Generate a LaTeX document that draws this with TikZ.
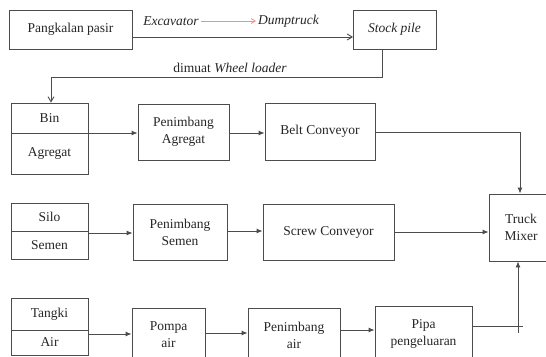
\documentclass[tikz,border=0pt]{standalone}
\usepackage{fontspec}
\setmainfont{Liberation Serif}
\usetikzlibrary{arrows.meta}
\begin{document}
\begin{tikzpicture}[x=1pt,y=-1pt,
  box/.style={draw=black!70, line width=0.9pt, rectangle, inner sep=0pt, align=center, font=\fontsize{13.5}{17}\selectfont, text=black!85},
  lbl/.style={inner sep=2pt, font=\fontsize{13.5}{17}\selectfont\itshape, text=black!85},
  conn/.style={draw=black!70, line width=0.9pt},
  farrow/.style={conn, -{Latex[length=6pt,width=5pt]}},
  oarrow/.style={conn, -{Straight Barb[length=5pt,width=6pt]}}]
\clip (0,0) rectangle (546,356);
\fill[white] (0,0) rectangle (546,356);
% top row
\node[box, minimum width=123, minimum height=39] (pp) at (70.5,29.5) {Pangkalan pasir};
\node[box, minimum width=83, minimum height=39, font=\fontsize{13.5}{17}\selectfont\itshape] (sp) at (394.5,29.5) {Stock pile};
\coordinate (ppr) at (132,37);
\coordinate (spl) at (353,37);
\draw[oarrow] (ppr) -- (spl);
\node[lbl] (exc) at (171,21) {Excavator};
\node[lbl] (dump) at (288.5,21) {Dumptruck};
\draw[draw=red!45, line width=0.8pt, -{Straight Barb[length=4pt,width=5pt]}] (exc) -- (dump);
\node[lbl] (wl) at (230,68) {\upshape dimuat \itshape Wheel loader};
% Bin Agregat
\node[box, minimum width=77, minimum height=30] (bin) at (49.5,118) {Bin};
\node[box, minimum width=77, minimum height=41] (agr) at (49.5,153.5) {Agregat};
\coordinate (spd) at (382,49);
\coordinate (k1) at (382,77);
\coordinate (k2) at (51,77);
\draw[oarrow] (spd) -- (k1) -- (k2) -- (bin.north -| k2);
\node[box, minimum width=91, minimum height=56] (pa) at (183.5,132) {Penimbang\\Agregat};
\node[box, minimum width=110, minimum height=57] (bc) at (320,131.5) {Belt Conveyor};
\node[box, minimum width=64, minimum height=67] (tm) at (521,227.5) {Truck\\Mixer};
\coordinate (bd) at (88,133);
\draw[farrow] (bd) -- (bd -| pa.west);
\draw[farrow] (pa.east |- 0,133) -- (bc.west |- 0,133);
\coordinate (c1) at (520,132);
\draw[farrow] (bc.east |- c1) -- (c1) -- (tm.north -| c1);
% Silo Semen
\node[box, minimum width=77, minimum height=28] (silo) at (49.5,217) {Silo};
\node[box, minimum width=77, minimum height=28] (sem) at (49.5,245) {Semen};
\node[box, minimum width=94, minimum height=56] (ps) at (180,232) {Penimbang\\Semen};
\node[box, minimum width=131, minimum height=56] (sc) at (328.5,232) {Screw Conveyor};
\draw[farrow] (88,233) -- (ps.west |- 0,233);
\draw[farrow] (ps.east |- 0,231) -- (sc.west |- 0,231);
\draw[farrow] (sc.east |- 0,232) -- (tm.west |- 0,232);
% Tangki Air
\node[box, minimum width=77, minimum height=32] (tk) at (49.5,314) {Tangki};
\node[box, minimum width=77, minimum height=25] (air) at (49.5,342.5) {\raisebox{-4pt}{Air}};
\node[box, minimum width=73, minimum height=54] (pom) at (168.5,335) {Pompa\\air};
\node[box, minimum width=92, minimum height=54] (pai) at (294,335) {Penimbang\\air};
\node[box, minimum width=97, minimum height=56] (pip) at (423.5,334) {Pipa\\pengeluaran};
\draw[farrow] (88,334) -- (pom.west |- 0,334);
\draw[farrow] (pom.east |- 0,333) -- (pai.west |- 0,333);
\draw[farrow] (pai.east |- 0,330) -- (pip.west |- 0,330);
\coordinate (j1) at (523,326);
\coordinate (j2) at (518,333);
\draw[conn] (pip.east |- j1) -- (j1);
\draw[farrow] (j2) -- (tm.south -| j2);
\end{tikzpicture}
\end{document}
